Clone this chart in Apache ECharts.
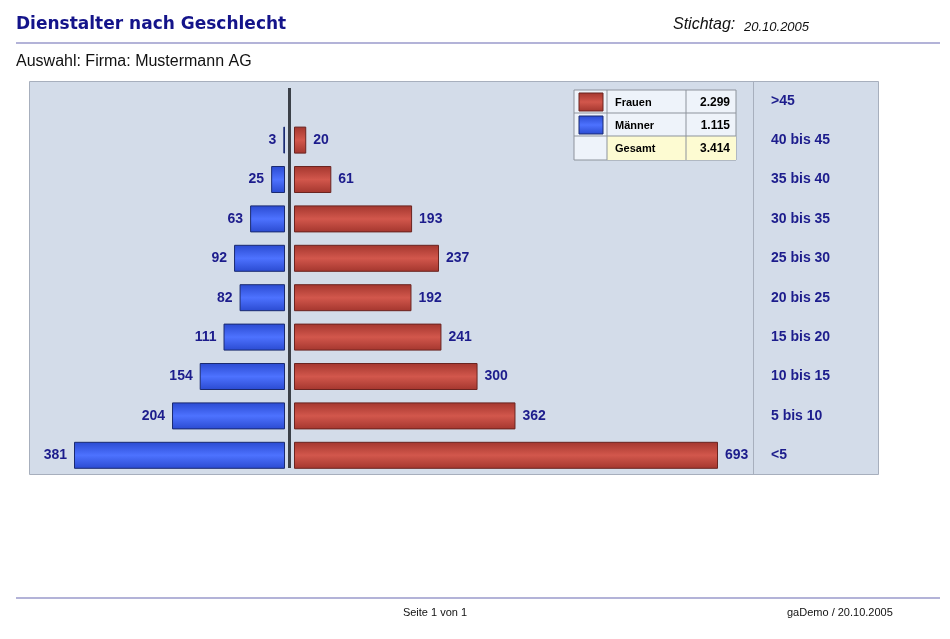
<!DOCTYPE html>
<html>
<head>
<meta charset="utf-8">
<script src="https://cdn.jsdelivr.net/npm/echarts@6/dist/echarts.min.js"></script>
<style>
  html, body { margin: 0; padding: 0; background: #ffffff; }
  #echarts { width: 950px; height: 639px; }
</style>
</head>
<body>
<div id="echarts"></div>
<script>
// Dienstjahre (von unten nach oben)
var kategorien = ['<5', '5 bis 10', '10 bis 15', '15 bis 20', '20 bis 25', '25 bis 30', '30 bis 35', '35 bis 40', '40 bis 45', '>45'];
var maenner = [381, 204, 154, 111, 82, 92, 63, 25, 3, 0];
var frauen = [693, 362, 300, 241, 192, 237, 193, 61, 20, 0];

var dunkelblau = '#1c1c8c';

// Summe mit deutschem Tausenderpunkt
function summe(arr) {
    var s = 0;
    arr.forEach(function (v) { s += v; });
    return s;
}
function fmt(n) {
    return String(n).replace(/\B(?=(\d{3})+(?!\d))/g, '.');
}
// leere Klassen ohne Balken zeichnen
function ohneNull(arr) {
    return arr.map(function (v) { return v === 0 ? '-' : v; });
}

var sumF = summe(frauen);
var sumM = summe(maenner);

function verlauf(rand, mitte) {
    return new echarts.graphic.LinearGradient(0, 0, 0, 1, [
        { offset: 0, color: rand },
        { offset: 0.5, color: mitte },
        { offset: 1, color: rand }
    ]);
}

var chart = echarts.init(document.getElementById('echarts'));

var tFont = 'bold 11px "Liberation Sans", Arial';

// Legende als kleine Tabelle
var tabelle = [
    { type: 'rect', shape: { x: 574, y: 90, width: 162, height: 70 }, style: { fill: '#eef3fa', stroke: '#8d939c', lineWidth: 1 } },
    { type: 'rect', shape: { x: 607, y: 136, width: 129, height: 24 }, style: { fill: '#fdfbd2' } },
    { type: 'line', shape: { x1: 574, y1: 113, x2: 736, y2: 113 }, style: { stroke: '#8d939c' } },
    { type: 'line', shape: { x1: 574, y1: 136, x2: 736, y2: 136 }, style: { stroke: '#8d939c' } },
    { type: 'line', shape: { x1: 607, y1: 90, x2: 607, y2: 160 }, style: { stroke: '#8d939c' } },
    { type: 'line', shape: { x1: 686, y1: 90, x2: 686, y2: 160 }, style: { stroke: '#8d939c' } },
    { type: 'rect', shape: { x: 579, y: 93, width: 24, height: 18 }, style: { fill: verlauf('#a3362e', '#d2574c'), stroke: '#6a2420' } },
    { type: 'rect', shape: { x: 579, y: 116, width: 24, height: 18 }, style: { fill: verlauf('#2a4ad0', '#4d72ff'), stroke: '#1a2a70' } },
    { type: 'text', style: { x: 615, y: 103, text: 'Frauen', fill: '#000', font: tFont, verticalAlign: 'middle' } },
    { type: 'text', style: { x: 615, y: 126, text: 'Männer', fill: '#000', font: tFont, verticalAlign: 'middle' } },
    { type: 'text', style: { x: 615, y: 149, text: 'Gesamt', fill: '#000', font: tFont, verticalAlign: 'middle' } },
    { type: 'text', style: { x: 730, y: 103, text: fmt(sumF), fill: '#000', font: 'bold 12px "Liberation Sans", Arial', align: 'right', verticalAlign: 'middle' } },
    { type: 'text', style: { x: 730, y: 126, text: fmt(sumM), fill: '#000', font: 'bold 12px "Liberation Sans", Arial', align: 'right', verticalAlign: 'middle' } },
    { type: 'text', style: { x: 730, y: 149, text: fmt(sumF + sumM), fill: '#000', font: 'bold 12px "Liberation Sans", Arial', align: 'right', verticalAlign: 'middle' } }
];

var seite = [
    // Kopfzeile
    { type: 'text', style: { x: 16, y: 25, text: 'Dienstalter nach Geschlecht', fill: '#14148a', font: 'bold 17px "DejaVu Sans"', verticalAlign: 'middle' } },
    { type: 'text', style: { x: 673, y: 25, text: 'Stichtag:', fill: '#111', font: 'italic 16px "Liberation Sans", Arial', verticalAlign: 'middle' } },
    { type: 'text', style: { x: 744, y: 27, text: '20.10.2005', fill: '#111', font: 'italic 13px "Liberation Sans", Arial', verticalAlign: 'middle' } },
    { type: 'line', shape: { x1: 16, y1: 43, x2: 940, y2: 43 }, style: { stroke: '#9a9acb', lineWidth: 1.5 } },
    { type: 'text', style: { x: 16, y: 62, text: 'Auswahl: Firma: Mustermann AG', fill: '#111', font: '16px "Liberation Sans", Arial', verticalAlign: 'middle' } },
    // Diagrammfläche
    { type: 'rect', z: -10, shape: { x: 29.5, y: 81.5, width: 849, height: 393 }, style: { fill: '#d3dce9', stroke: '#a7afbd', lineWidth: 1 } },
    { type: 'line', z: -9, shape: { x1: 753.5, y1: 82, x2: 753.5, y2: 474 }, style: { stroke: '#a7afbd', lineWidth: 1 } },
    // Mittelachse
    { type: 'line', z: 50, shape: { x1: 289.5, y1: 88, x2: 289.5, y2: 468 }, style: { stroke: '#3b4048', lineWidth: 3 } },
    // Fußzeile
    { type: 'line', shape: { x1: 16, y1: 598, x2: 940, y2: 598 }, style: { stroke: '#9a9acb', lineWidth: 1.5 } },
    { type: 'text', style: { x: 435, y: 613, text: 'Seite 1 von 1', fill: '#111', font: '11px "Liberation Sans", Arial', align: 'center', verticalAlign: 'middle' } },
    { type: 'text', style: { x: 787, y: 613, text: 'gaDemo / 20.10.2005', fill: '#111', font: '11px "Liberation Sans", Arial', verticalAlign: 'middle' } }
];

var wertLabel = {
    show: true,
    color: dunkelblau,
    fontWeight: 'bold',
    fontSize: 14,
    fontFamily: '"Liberation Sans", Arial',
    distance: 7
};

var options = {
    animation: false,
    backgroundColor: '#ffffff',
    graphic: seite.concat(tabelle),
    grid: [
        { left: 74, right: 665, top: 81, bottom: 164 },
        { left: 294, right: 232, top: 81, bottom: 164 }
    ],
    xAxis: [
        { gridIndex: 0, type: 'value', inverse: true, min: 0, max: 'dataMax', show: false },
        { gridIndex: 1, type: 'value', min: 0, max: 'dataMax', show: false }
    ],
    yAxis: [
        { gridIndex: 0, type: 'category', data: kategorien, show: false },
        {
            gridIndex: 1, type: 'category', data: kategorien, position: 'right',
            axisLine: { show: false }, axisTick: { show: false },
            axisLabel: { margin: 53, color: dunkelblau, fontWeight: 'bold', fontSize: 14, fontFamily: '"Liberation Sans", Arial', padding: [4, 0, 0, 0] }
        }
    ],
    series: [
        {
            name: 'Männer',
            type: 'bar',
            xAxisIndex: 0,
            yAxisIndex: 0,
            barWidth: 27,
            data: ohneNull(maenner),
            itemStyle: { color: verlauf('#2a4ad0', '#4d72ff'), borderColor: '#1a2a70', borderWidth: 1 },
            label: Object.assign({ position: 'left' }, wertLabel)
        },
        {
            name: 'Frauen',
            type: 'bar',
            xAxisIndex: 1,
            yAxisIndex: 1,
            barWidth: 27,
            data: ohneNull(frauen),
            itemStyle: { color: verlauf('#a3362e', '#d2574c'), borderColor: '#6a2420', borderWidth: 1 },
            label: Object.assign({ position: 'right' }, wertLabel)
        }
    ]
};

chart.setOption(options);
</script>
</body>
</html>
